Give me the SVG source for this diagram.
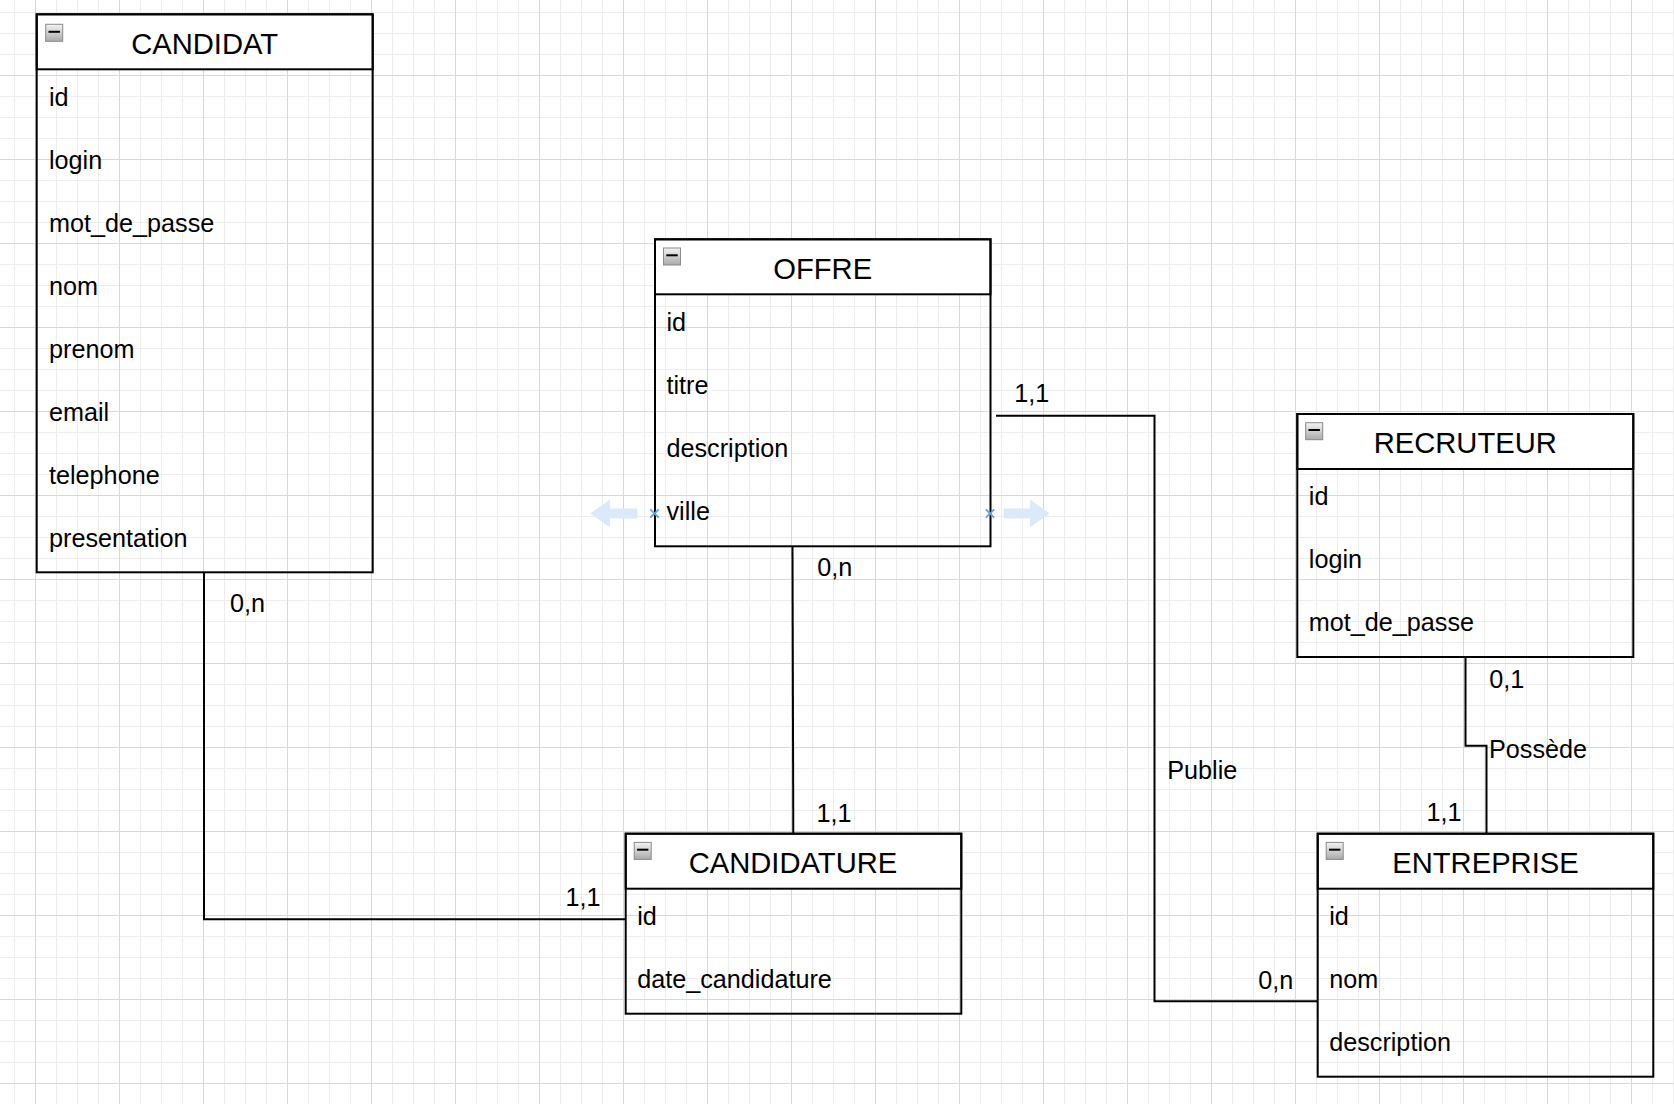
<svg xmlns="http://www.w3.org/2000/svg" width="1674" height="1104" viewBox="0 0 1674 1104">
  <style>
    .box { fill: none; stroke: #000; stroke-width: 2; }
    .hdr { fill: #fff; stroke: #000; stroke-width: 2; }
    .title { font-family: "Liberation Sans", Arial, sans-serif; font-size: 29.2px; fill: #000; text-anchor: middle; }
    .attr { font-family: "Liberation Sans", Arial, sans-serif; font-size: 25.2px; fill: #000; }
    .lbl { font-family: "Liberation Sans", Arial, sans-serif; font-size: 25.2px; fill: #000; }
    .conn { fill: none; stroke: #000; stroke-width: 2; }
    .icon { fill: url(#ig); stroke: #8a8a8a; stroke-width: 1; }
    .minus { stroke: #000; stroke-width: 2; }
    .hover { fill: #dbe9f8; }
    .xmark { stroke: #6a9fd8; stroke-width: 1.8; }
  </style>
  <defs>
    <linearGradient id="ig" x1="0" y1="0" x2="0" y2="1">
      <stop offset="0" stop-color="#f4f4f4"/>
      <stop offset="1" stop-color="#a9a9a9"/>
    </linearGradient>
    <pattern id="grid" patternUnits="userSpaceOnUse" x="35" y="-9" width="84" height="84">
      <rect x="21" y="0" width="1" height="84" fill="#ededed"/>
      <rect x="42" y="0" width="1" height="84" fill="#ededed"/>
      <rect x="63" y="0" width="1" height="84" fill="#ededed"/>
      <rect x="0" y="21" width="84" height="1" fill="#ededed"/>
      <rect x="0" y="42" width="84" height="1" fill="#ededed"/>
      <rect x="0" y="63" width="84" height="1" fill="#ededed"/>
      <rect x="0" y="0" width="1" height="84" fill="#d8d8d8"/>
      <rect x="0" y="0" width="84" height="1" fill="#d8d8d8"/>
    </pattern>
  </defs>

  <rect x="0" y="0" width="1674" height="1104" fill="#fff"/>
  <rect x="0" y="0" width="1674" height="1104" fill="url(#grid)"/>

  <g id="connectors">
    <path class="conn" d="M204 572.3 V919.3 H625.7"/>
    <path class="conn" d="M792.5 546.3 L793.3 833.7"/>
    <path class="conn" d="M996 415.7 H1154.5 V1001.3 H1317.7"/>
    <path class="conn" d="M1465.5 657 V745.7 H1486.5 V833.7"/>
    <text class="lbl" x="230" y="611.5">0,n</text>
    <text class="lbl" x="565.5" y="906">1,1</text>
    <text class="lbl" x="817.3" y="575.5">0,n</text>
    <text class="lbl" x="816.5" y="821.7">1,1</text>
    <text class="lbl" x="1014.3" y="401.7">1,1</text>
    <text class="lbl" x="1167.3" y="778.7">Publie</text>
    <text class="lbl" x="1258.3" y="989.3">0,n</text>
    <text class="lbl" x="1489.3" y="687.7">0,1</text>
    <text class="lbl" x="1489" y="758.3">Possède</text>
    <text class="lbl" x="1426.6" y="821">1,1</text>
  </g>

  <g id="candidat">
    <rect class="hdr" x="36.7" y="14.3" width="336" height="55"/>
    <rect class="box" x="36.7" y="14.3" width="336" height="558"/>
    <rect class="icon" x="45.7" y="24.3" width="17" height="17"/>
    <line class="minus" x1="48.5" y1="31.8" x2="59.9" y2="31.8"/>
    <text class="title" x="204.7" y="54">CANDIDAT</text>
    <text class="attr" x="49" y="106">id</text>
    <text class="attr" x="49" y="169">login</text>
    <text class="attr" x="49" y="232">mot_de_passe</text>
    <text class="attr" x="49" y="295">nom</text>
    <text class="attr" x="49" y="358">prenom</text>
    <text class="attr" x="49" y="421">email</text>
    <text class="attr" x="49" y="484">telephone</text>
    <text class="attr" x="49" y="547">presentation</text>
  </g>

  <g id="offre">
    <rect class="hdr" x="655" y="239.3" width="335.5" height="55"/>
    <rect class="box" x="655" y="239.3" width="335.5" height="307"/>
    <rect class="icon" x="663.5" y="248" width="17" height="17"/>
    <line class="minus" x1="666.3" y1="255.3" x2="677.7" y2="255.3"/>
    <text class="title" x="822.7" y="278.7">OFFRE</text>
    <text class="attr" x="666.5" y="331">id</text>
    <text class="attr" x="666.5" y="394">titre</text>
    <text class="attr" x="666.5" y="457">description</text>
    <text class="attr" x="666.5" y="520">ville</text>
  </g>

  <g id="hover-arrows">
    <path class="hover" d="M637.4 508.5 H610 V499.5 L590.4 513.5 L610 527.5 V518.5 H637.4 Z"/>
    <path class="hover" d="M1003.6 508.5 H1030 V499.5 L1049.6 513.5 L1030 527.5 V518.5 H1003.6 Z"/>
    <path class="xmark" d="M650.3 509.3 L658.7 517.7 M658.7 509.3 L650.3 517.7"/>
    <path class="xmark" d="M985.8 509.3 L994.2 517.7 M994.2 509.3 L985.8 517.7"/>
  </g>

  <g id="recruteur">
    <rect class="hdr" x="1297.3" y="414" width="336" height="55"/>
    <rect class="box" x="1297.3" y="414" width="336" height="243"/>
    <rect class="icon" x="1305.7" y="422.7" width="17" height="17"/>
    <line class="minus" x1="1308.5" y1="430" x2="1319.9" y2="430"/>
    <text class="title" x="1465.3" y="453.4">RECRUTEUR</text>
    <text class="attr" x="1308.8" y="505">id</text>
    <text class="attr" x="1308.8" y="568">login</text>
    <text class="attr" x="1308.8" y="631">mot_de_passe</text>
  </g>

  <g id="candidature">
    <rect class="hdr" x="625.7" y="833.7" width="335.6" height="55"/>
    <rect class="box" x="625.7" y="833.7" width="335.6" height="180"/>
    <rect class="icon" x="634.2" y="842.4" width="17" height="17"/>
    <line class="minus" x1="637" y1="849.7" x2="648.4" y2="849.7"/>
    <text class="title" x="793" y="873">CANDIDATURE</text>
    <text class="attr" x="637.2" y="925.2">id</text>
    <text class="attr" x="637.2" y="988.2">date_candidature</text>
  </g>

  <g id="entreprise">
    <rect class="hdr" x="1317.7" y="833.7" width="335.6" height="55"/>
    <rect class="box" x="1317.7" y="833.7" width="335.6" height="243"/>
    <rect class="icon" x="1326.2" y="842.4" width="17" height="17"/>
    <line class="minus" x1="1329" y1="849.7" x2="1340.4" y2="849.7"/>
    <text class="title" x="1485.5" y="873">ENTREPRISE</text>
    <text class="attr" x="1329.2" y="925.2">id</text>
    <text class="attr" x="1329.2" y="988.2">nom</text>
    <text class="attr" x="1329.2" y="1051.2">description</text>
  </g>
</svg>
